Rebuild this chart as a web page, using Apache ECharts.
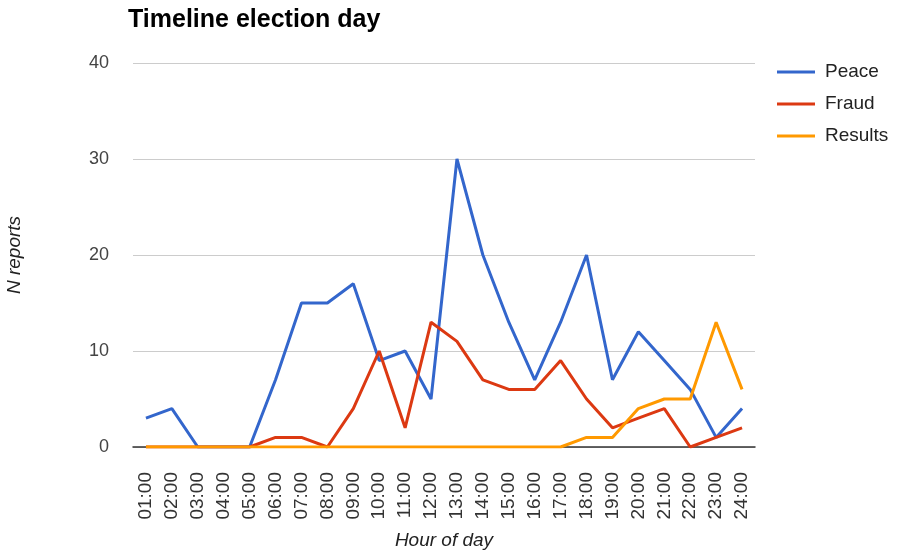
<!DOCTYPE html>
<html>
<head>
<meta charset="utf-8">
<script src="https://cdn.jsdelivr.net/npm/echarts@6/dist/echarts.min.js"></script>
<style>
    html, body {margin: 0; padding: 0; background: #fff;}
    #chart {width: 897px; height: 550px;}
</style>
</head>
<body>
<div id="chart"></div>
<script>
    // hours on the x axis
    var hours = ['01:00', '02:00', '03:00', '04:00', '05:00', '06:00', '07:00', '08:00', '09:00', '10:00', '11:00', '12:00',
        '13:00', '14:00', '15:00', '16:00', '17:00', '18:00', '19:00', '20:00', '21:00', '22:00', '23:00', '24:00'];
    var peace = [3, 4, 0, 0, 0, 7, 15, 15, 17, 9, 10, 5, 30, 20, 13, 7, 13, 20, 7, 12, 9, 6, 1, 4];
    var fraud = [0, 0, 0, 0, 0, 1, 1, 0, 4, 10, 2, 13, 11, 7, 6, 6, 9, 5, 2, 3, 4, 0, 1, 2];
    var results = [0, 0, 0, 0, 0, 0, 0, 0, 0, 0, 0, 0, 0, 0, 0, 0, 0, 1, 1, 4, 5, 5, 13, 6];

    var font = 'Arial, "Liberation Sans", sans-serif';
    var chart = echarts.init(document.getElementById('chart'));

    function line(name, data, color, z) {
        return {
            name: name, type: 'line', data: data, symbol: 'none', z: z,
            lineStyle: {color: color, width: 3}, itemStyle: {color: color}
        };
    }

    chart.setOption({
        animation: false,
        title: {
            text: 'Timeline election day', left: 123, top: 3,
            textStyle: {fontFamily: font, fontSize: 25, fontWeight: 'bold', color: '#000'}
        },
        legend: {
            orient: 'vertical', left: 772, top: 57, itemGap: 12, itemWidth: 38, itemHeight: 3,
            icon: 'rect',
            textStyle: {fontFamily: font, fontSize: 19, lineHeight: 20, color: '#222', padding: [0, 0, 0, 5]},
            data: ['Peace', 'Fraud', 'Results']
        },
        grid: {left: 133, right: 142, top: 63, bottom: 103, containLabel: false, outerBoundsMode: 'none'},
        xAxis: {
            type: 'category', data: hours, boundaryGap: true,
            name: 'Hour of day', nameLocation: 'middle', nameGap: 84,
            nameTextStyle: {fontFamily: font, fontSize: 19, fontStyle: 'italic', color: '#222'},
            axisLine: {show: true, onZero: true, lineStyle: {color: '#333', width: 1.5}},
            axisTick: {show: false},
            axisLabel: {rotate: 90, interval: 0, margin: 25, fontFamily: font, fontSize: 19, color: '#333'}
        },
        yAxis: {
            type: 'value', min: 0, max: 40, interval: 10,
            name: 'N reports', nameLocation: 'middle', nameGap: 109, nameRotate: 90,
            nameTextStyle: {fontFamily: font, fontSize: 19, fontStyle: 'italic', color: '#222'},
            axisLine: {show: false}, axisTick: {show: false},
            splitLine: {lineStyle: {color: '#cccccc', width: 1}},
            axisLabel: {margin: 24, fontFamily: font, fontSize: 18, color: '#444'}
        },
        series: [
            line('Peace', peace, '#3366cc', 3),
            line('Fraud', fraud, '#dc3912', 4),
            line('Results', results, '#ff9900', 5)
        ]
    });
</script>
</body>
</html>
